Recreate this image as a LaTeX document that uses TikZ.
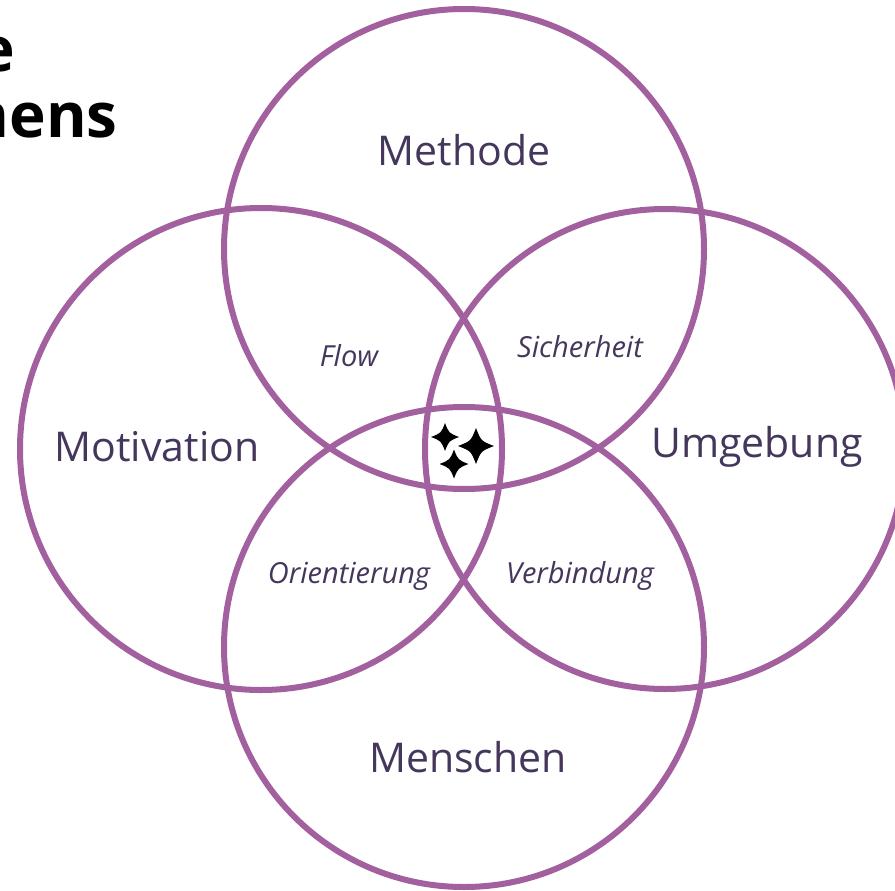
\documentclass[tikz,border=0pt]{standalone}
\usepackage{fontspec}
\setmainfont{Open Sans}
\definecolor{ring}{HTML}{A3609E}
\definecolor{ink}{HTML}{45365C}
\tikzset{
  ring/.style={draw=ring, line width=6pt},
  big/.style={text=ink, font=\fontsize{41}{41}\selectfont, inner sep=0pt},
  small/.style={text=ink, font=\fontsize{29}{29}\selectfont\itshape, inner sep=0pt},
  title/.style={text=black, font=\fontsize{62}{62}\selectfont\bfseries, inner sep=0pt, anchor=base east},
  sparkle/.pic={\fill[black] (0,-1) .. controls (0.28,-0.28) .. (1,0) .. controls (0.28,0.28) .. (0,1) .. controls (-0.28,0.28) .. (-1,0) .. controls (-0.28,-0.28) .. (0,-1) -- cycle;}
}
\begin{document}
\begin{tikzpicture}[x=1pt,y=-1pt]
\useasboundingbox (0,0) rectangle (895,891);
\clip (0,0) rectangle (895,891);
\node[title] (t1) at (15,72) {e};
\node[title] (t2) at (118,137) {mens};
\draw[ring] (464,249) circle (240);
\draw[ring] (261,449) circle (241);
\draw[ring] (665,449) circle (240);
\draw[ring] (464,647) circle (240);
\node[big] (methode) at (464,150) {Methode};
\node[big] (motivation) at (157,447) {Motivation};
\node[big] (umgebung) at (757,447) {Umgebung};
\node[big] (menschen) at (468,757) {Menschen};
\node[small] (flow) at (349,356) {Flow};
\node[small] (sicherheit) at (580,347) {Sicherheit};
\node[small] (orient) at (349,576) {Orientierung};
\node[small] (verbindung) at (580,576) {Verbindung};
\pic[scale=14] at (445,437) {sparkle};
\pic[scale=18] at (476,446) {sparkle};
\pic[scale=14.5] at (454,464) {sparkle};
\end{tikzpicture}
\end{document}
